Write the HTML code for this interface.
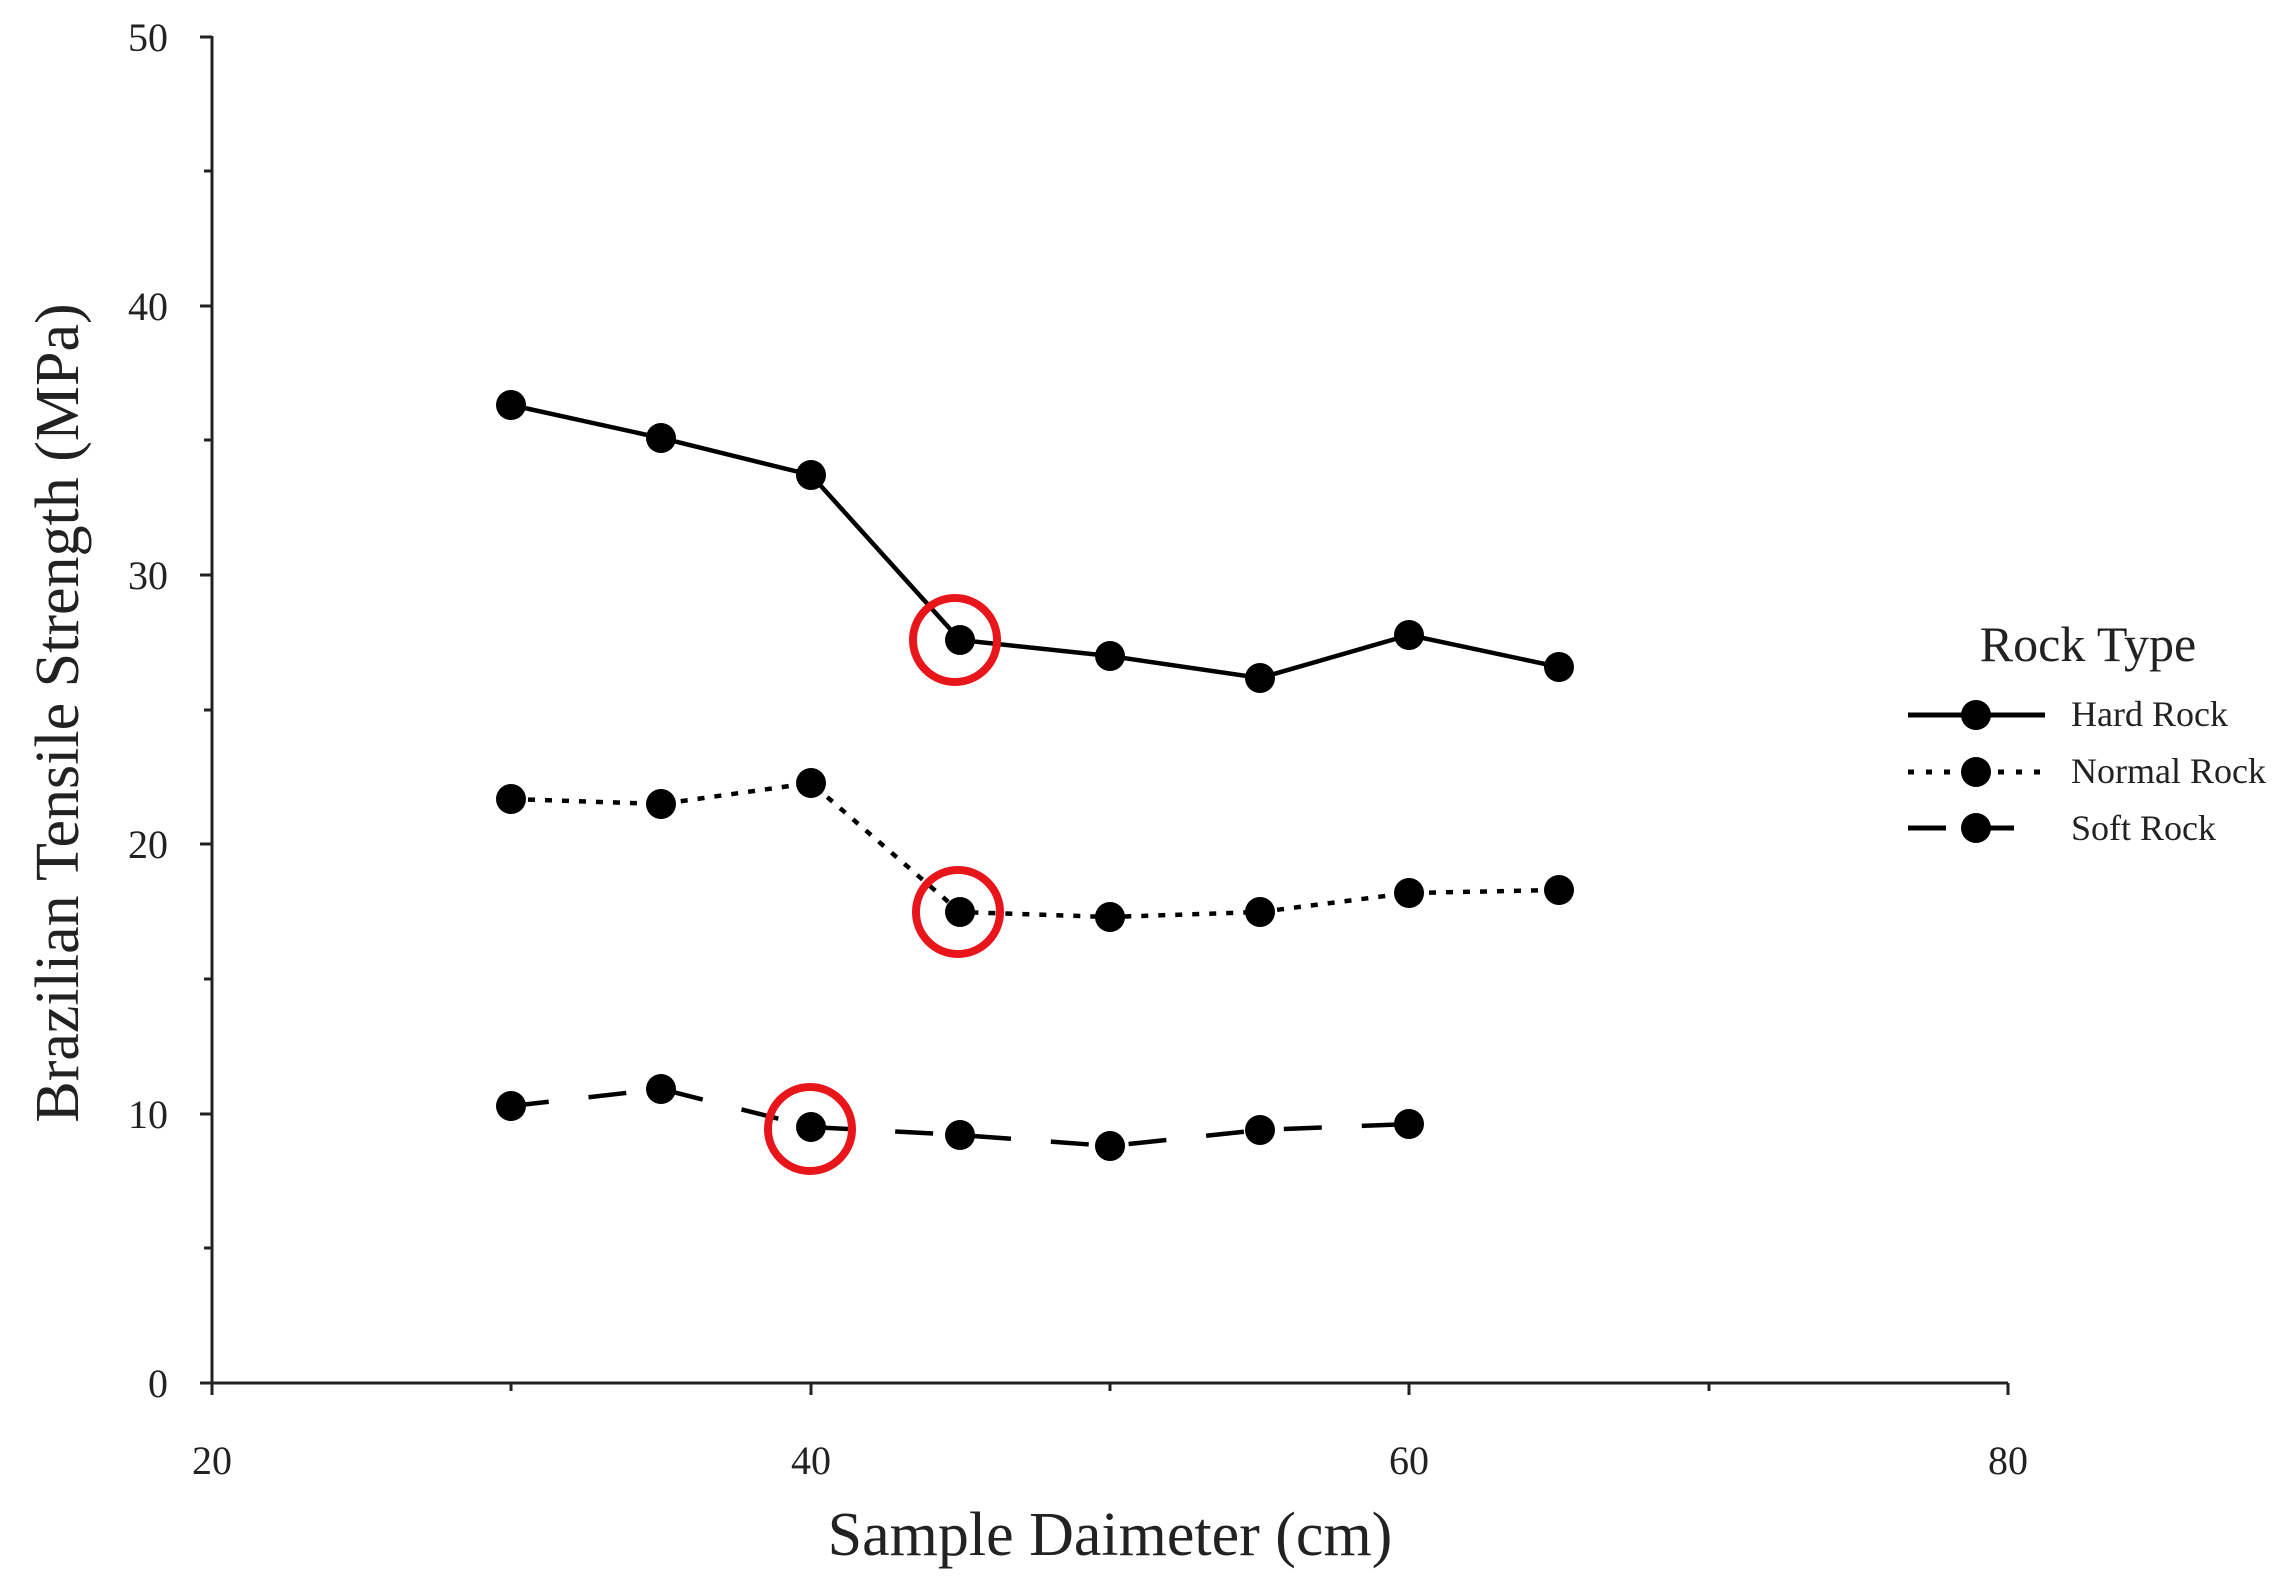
<!DOCTYPE html>
<html><head><meta charset="utf-8"><style>body{margin:0;background:#fff}svg{display:block}</style></head><body>
<svg width="2290" height="1595" xmlns="http://www.w3.org/2000/svg" font-family="'Liberation Serif', serif" fill="#222">
<g stroke="#222" stroke-width="3" fill="none">
<line x1="212" y1="36" x2="212" y2="1383"/>
<line x1="212" y1="1383" x2="2008" y2="1383"/>
<line x1="200" y1="1383" x2="212" y2="1383"/><line x1="204" y1="1248" x2="212" y2="1248"/>
<line x1="200" y1="1114" x2="212" y2="1114"/><line x1="204" y1="979" x2="212" y2="979"/>
<line x1="200" y1="844" x2="212" y2="844"/><line x1="204" y1="710" x2="212" y2="710"/>
<line x1="200" y1="575" x2="212" y2="575"/><line x1="204" y1="440" x2="212" y2="440"/>
<line x1="200" y1="306" x2="212" y2="306"/><line x1="204" y1="171" x2="212" y2="171"/>
<line x1="200" y1="37" x2="212" y2="37"/>
<line x1="212" y1="1383" x2="212" y2="1395"/><line x1="511" y1="1383" x2="511" y2="1391"/>
<line x1="811" y1="1383" x2="811" y2="1395"/><line x1="1110" y1="1383" x2="1110" y2="1391"/>
<line x1="1409" y1="1383" x2="1409" y2="1395"/><line x1="1709" y1="1383" x2="1709" y2="1391"/>
<line x1="2008" y1="1383" x2="2008" y2="1395"/>
</g>
<g font-size="40" text-anchor="end">
<text x="168" y="1397">0</text><text x="168" y="1128">10</text><text x="168" y="858">20</text>
<text x="168" y="589">30</text><text x="168" y="320">40</text><text x="168" y="51">50</text>
</g>
<g font-size="40" text-anchor="middle">
<text x="212" y="1474">20</text><text x="811" y="1474">40</text><text x="1409" y="1474">60</text><text x="2008" y="1474">80</text>
</g>
<text x="1110" y="1555" font-size="62" text-anchor="middle">Sample Daimeter (cm)</text>
<text transform="translate(78,713) rotate(-90)" font-size="62" text-anchor="middle">Brazilian Tensile Strength (MPa)</text>

<g fill="none" stroke="#000" stroke-width="4.5">
<polyline points="511,405 661,438 811,475 960,640 1110,656 1260,678 1409,635 1559,667"/>
<polyline stroke-dasharray="7,10" points="511,799 661,804 811,783 960,912 1110,917 1260,912 1409,893 1559,890"/>
<polyline stroke-dasharray="38,40" points="511,1106 661,1089 811,1127 960,1135 1110,1146 1260,1130 1409,1124"/>
</g>
<g fill="#000">
<circle cx="511" cy="405" r="15"/><circle cx="661" cy="438" r="15"/><circle cx="811" cy="475" r="15"/><circle cx="960" cy="640" r="15"/><circle cx="1110" cy="656" r="15"/><circle cx="1260" cy="678" r="15"/><circle cx="1409" cy="635" r="15"/><circle cx="1559" cy="667" r="15"/>
<circle cx="511" cy="799" r="15"/><circle cx="661" cy="804" r="15"/><circle cx="811" cy="783" r="15"/><circle cx="960" cy="912" r="15"/><circle cx="1110" cy="917" r="15"/><circle cx="1260" cy="912" r="15"/><circle cx="1409" cy="893" r="15"/><circle cx="1559" cy="890" r="15"/>
<circle cx="511" cy="1106" r="15"/><circle cx="661" cy="1089" r="15"/><circle cx="811" cy="1127" r="15"/><circle cx="960" cy="1135" r="15"/><circle cx="1110" cy="1146" r="15"/><circle cx="1260" cy="1130" r="15"/><circle cx="1409" cy="1124" r="15"/>
</g>
<g fill="none" stroke="#e8151b" stroke-width="8">
<circle cx="955" cy="640" r="42"/><circle cx="958" cy="912" r="42"/><circle cx="810" cy="1129" r="42"/>
</g>
<text x="2088" y="661" font-size="50" text-anchor="middle">Rock Type</text>
<g stroke="#000" stroke-width="5" fill="none">
<line x1="1908" y1="715" x2="2045" y2="715"/>
<line x1="1908" y1="772" x2="2040" y2="772" stroke-dasharray="6,12"/>
<line x1="1908" y1="828" x2="2022" y2="828" stroke-dasharray="38,30"/>
</g>
<g fill="#000"><circle cx="1976" cy="715" r="15"/><circle cx="1976" cy="772" r="15"/><circle cx="1976" cy="828" r="15"/></g>
<g font-size="36">
<text x="2071" y="726">Hard Rock</text><text x="2071" y="783">Normal Rock</text><text x="2071" y="840">Soft Rock</text>
</g>
</svg>
</body></html>
